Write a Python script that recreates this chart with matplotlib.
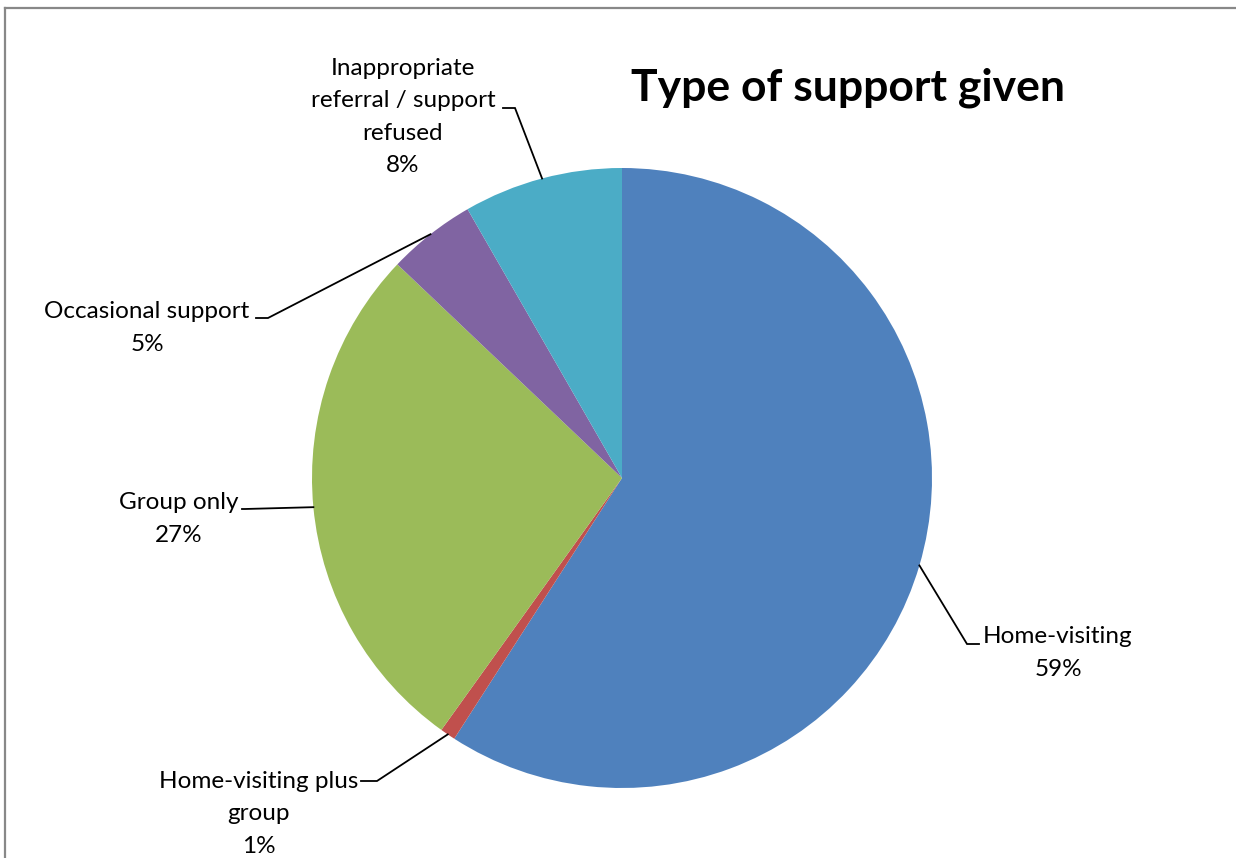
import numpy as np
import matplotlib.pyplot as plt
from matplotlib.lines import Line2D

plt.rcParams['font.family'] = ['Lato', 'DejaVu Sans']

# data
categories = ["Home-visiting", "Home-visiting plus\ngroup", "Group only",
              "Occasional support", "Inappropriate\nreferral / support\nrefused"]
shares = [59.1, 0.8, 27.2, 4.6, 8.3]
pct_labels = ["59%", "1%", "27%", "5%", "8%"]
colors = ["#4F81BD", "#C0504D", "#9BBB59", "#8064A2", "#4BACC6"]

W, H = 1236, 858
fig = plt.figure(figsize=(W / 100, H / 100), dpi=100)
ax = fig.add_axes([0, 0, 1, 1])

cx, cy, r = 622, H - 478, 310
wedges, _ = ax.pie(shares, colors=colors, startangle=90, counterclock=False,
                   center=(cx, cy), radius=r, frame=True,
                   wedgeprops=dict(linewidth=0))
ax.set_xlim(0, W)
ax.set_ylim(0, H)
ax.set_aspect('equal')
ax.axis('off')

# label layout (pixel coords, y from top): elbow point, elbow end, text centre
layout = [
    dict(elbow=(967, 644), end=(979, 644), text=(1058, 653)),
    dict(elbow=(377, 781), end=(361, 781), text=(259, 814)),
    dict(elbow=(245, 509), end=(242, 509), text=(179, 519)),
    dict(elbow=(268, 318), end=(256, 318), text=(147, 328)),
    dict(elbow=(515, 108), end=(503, 108), text=(403, 117)),
]

for w, cat, pct, lay in zip(wedges, categories, pct_labels, layout):
    mid = np.deg2rad((w.theta1 + w.theta2) / 2)
    px, py = cx + r * np.cos(mid), cy + r * np.sin(mid)
    ex, ey = lay['elbow']
    fx, fy = lay['end']
    ax.plot([px, ex, fx], [py, H - ey, H - fy], color='black', lw=1.3,
            solid_joinstyle='miter')
    tx, ty = lay['text']
    ax.text(tx, H - ty, cat + "\n" + pct, ha='center', va='center',
            fontsize=17.5, linespacing=1.68, color='black')

ax.text(848, H - 88, "Type of support given", ha='center', va='center',
        fontsize=32, fontweight='bold', color='black')

# chart border (only top and left visible in the crop)
fig.add_artist(Line2D([4.5 / W, 4.5 / W], [0, 1 - 7.5 / H], transform=fig.transFigure,
                      color='#888888', lw=1.6))
fig.add_artist(Line2D([4.5 / W, 1], [1 - 7.5 / H, 1 - 7.5 / H], transform=fig.transFigure,
                      color='#888888', lw=1.6))

fig.savefig("out.png", dpi=100)
